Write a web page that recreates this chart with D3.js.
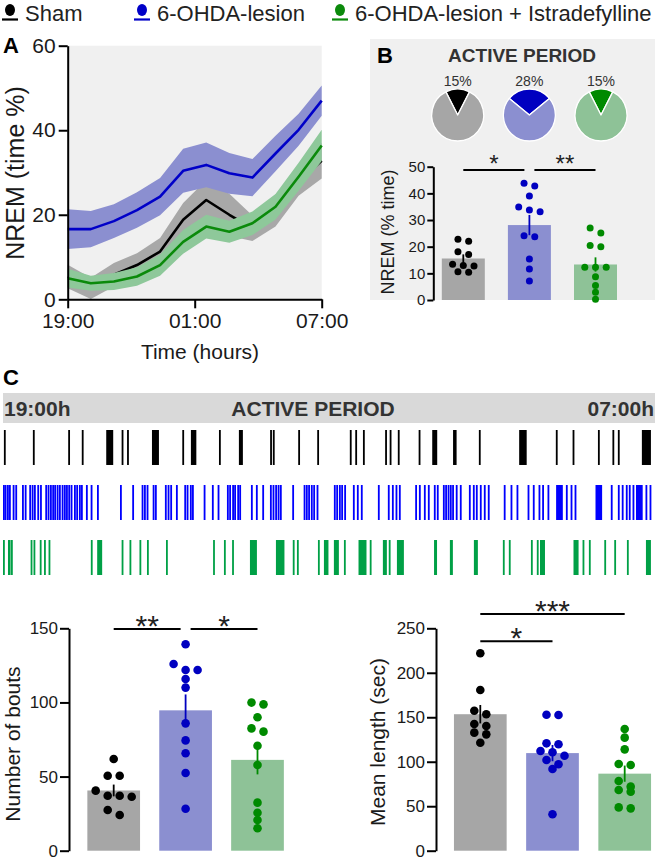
<!DOCTYPE html>
<html><head><meta charset="utf-8">
<script src="https://cdn.jsdelivr.net/npm/d3@7"></script>
<style>
body{margin:0;background:#fff}
svg{display:block}
text{font-family:"Liberation Sans",Arial,Helvetica,sans-serif}
</style>
</head><body>
<svg id="c" width="657" height="860"></svg>
<script>
// ---------------- DATA ----------------
const groups = ["Sham", "6-OHDA-lesion", "6-OHDA-lesion + Istradefylline"];
const colLine = ["#000000", "#0000c8", "#0b8a0b"];
const colBand = ["#a8a8a8", "#8b8fd0", "#8ec89a"];
const colBar = ["#a6a6a6", "#8b8fd0", "#8ec297"];
const colDot = ["#000000", "#0000c0", "#008a00"];
const colHyp = ["#000000", "#0000ff", "#00a046"];

// Panel A: hourly NREM (% time), 12 bins
const hourIdx = [0,1,2,3,4,5,6,7,8,9,10,11];
const timeTicks = [0, 5.5, 11];
const timeTickLabels = ["19:00", "01:00", "07:00"];
const shamMean = [5.4, 2.6, 5.8, 8.1, 11.3, 18.8, 23.5, 20.0, 16.8, 21.0, 28.0, 32.8];
const shamSem  = [2.8, 2.5, 2.8, 2.8, 3.2, 4.0, 4.7, 5.0, 3.0, 3.8, 3.5, 4.2];
const lesionMean = [16.6, 16.6, 18.5, 21.1, 24.3, 30.4, 31.8, 29.8, 28.8, 34.5, 40.1, 47.0];
const lesionSem  = [4.7, 4.3, 4.0, 4.2, 4.4, 5.2, 5.3, 4.8, 4.4, 4.2, 3.8, 3.6];
const istraMean = [5.0, 3.8, 4.2, 5.4, 8.1, 13.6, 17.2, 16.0, 18.0, 21.9, 29.0, 36.4];
const istraSem  = [2.2, 1.8, 2.0, 2.2, 2.5, 2.8, 2.8, 2.6, 2.8, 3.0, 3.3, 3.7];

// Panel B: pies and NREM % during active period
const piePercent = [15, 28, 15];
const nremSham   = [22.8, 22.0, 18.1, 17.1, 13.4, 12.9, 12.8, 10.4, 10.6];
const nremLesion = [43.75, 42.75, 39.0, 34.9, 33.75, 33.1, 24.1, 23.75, 15.4, 11.6, 7.1];
const nremIstra  = [27.0, 25.1, 20.4, 20.0, 12.25, 12.25, 12.25, 8.75, 5.4, 2.9, 0.25];
const nremTicks = [0, 10, 20, 30, 40, 50];
const sigB = [{a:0, b:1, level:48.8, label:"*"}, {a:1, b:2, level:48.8, label:"**"}];

// Panel C: hypnogram episodes [start min, duration min] over 720 min
const hypSham = [[1,2],[33,2],[72,2],[87,2],[114,7.7],[131,2],[137,2],[164.5,7.7],[198,2],[207.5,6],[238.5,2],[260.5,4.4],[295,2],[298,2],[326,2],[347,2],[383,2],[389,2],[397.5,2],[422,2],[427,2],[436,2],[459,2],[474,5.5],[497,3.9],[525.5,2],[570,8.3],[610.5,2],[629,2],[657,2],[673,2],[679,2],[705.5,10]];
const hypLesionStarts = [0,1.9,4.4,6.6,10.7,13.6,21,24,29,31.7,34.2,37.9,40.9,46.7,49.3,51.9,54.4,56.6,59.3,61.8,64.8,67.3,69.6,72.1,74.7,78.4,80.9,83.9,86.1,91.6,96.8,103.8,129.2,142.7,153.1,155.7,158.6,165.3,167.8,178.8,181.8,184.7,191,200.2,202.8,206.4,208.7,221.6,230.7,237,247.3,249.8,253.1,255.3,258.7,260.9,273.8,279.3,286.3,294.8,297.7,300.6,303.3,305.8,319.4,332,334.5,337,340,342.6,346.3,365.4,368,371,373.5,376.8,386.4,390.8,395.2,414,425,429.5,433.5,437.2,455.2,459.3,464.8,469.2,475.8,479.1,485.8,488.3,491,493.5,496,500,504.5,514.5,518.9,522.2,526.6,531,535.4,553,560.5,567.1,579.3,585.1,591.4,595.4,601.3,621.6,626.8,631.2,671.2,679,683.3,687.8,691.1,695.2,709.5,714];
const hypLesionLong = [[610.8,7.4],[654.3,7.3],[699,7.4]];
const hypIstra = [[0,2],[5.5,2.5],[8.3,2.5],[30.5,2],[33.7,2],[40.6,2],[45.3,2],[50.3,2],[97,2],[104,5.5],[131,2],[139.7,2],[150.7,2],[159,2],[180,2],[232,2],[244,2],[253,2],[272.7,7.7],[301.4,9.4],[320,2],[324.6,2],[347.8,2],[354.4,5],[365.4,5.5],[376.5,2],[392.6,8.8],[405,2],[419.5,4.4],[426,2],[435,7.7],[476,3.3],[493.5,3.3],[520,4.4],[552,2],[558.6,2],[583,2],[589.5,2],[593,5.5],[630,5.6],[640,2],[647,2],[664,2],[675,2],[689,2],[710,5.5]];

// Panel C bottom
const boutsSham   = [61.8, 50.6, 50.6, 40.5, 37.1, 36.4, 37.1, 27.4, 24.1];
const boutsLesion = [139.2, 125.9, 121.9, 121.9, 115.8, 110.0, 85.9, 74.4, 65.7, 52.4, 28.3];
const boutsIstra  = [98.7, 99.9, 90.0, 82.5, 80.3, 70.8, 57.8, 32.4, 25.6, 20.7, 15.1];
const boutsTicks = [0, 50, 100, 150];
const sigBouts = [{a:0, b:1, level:149.5, label:"**"}, {a:1, b:2, level:149.5, label:"*"}];

const lenSham   = [221.9, 180.7, 153.3, 157.4, 140.2, 142.4, 132.7, 130.8, 121.4];
const lenLesion = [152.5, 152.9, 119.6, 120.7, 112.1, 106.8, 110.6, 101.9, 97.1, 91.8, 40.9];
const lenIstra  = [136.8, 127.1, 113.9, 96.3, 97.4, 78.3, 72.0, 66.3, 68.2, 47.6, 48.7];
const lenTicks = [0, 50, 100, 150, 200, 250];
const sigLen = [{a:0, b:1, level:235.5, label:"*"}, {a:0, b:2, level:266, label:"***"}];

// ---------------- DRAW ----------------
const svg = d3.select("#c");
const txt = "#1a1a1a";

// Legend
const legX = [10, 142, 340];
groups.forEach((g, i) => {
  const lg = svg.append("g").attr("transform", `translate(${legX[i]},0)`);
  lg.append("ellipse").attr("cx", 0).attr("cy", 10).attr("rx", 5).attr("ry", 6).attr("fill", colLine[i]);
  lg.append("line").attr("x1", -8).attr("x2", 8).attr("y1", 19.5).attr("y2", 19.5).attr("stroke", colLine[i]).attr("stroke-width", 2.2);
  lg.append("text").attr("x", 15).attr("y", 21).attr("font-size", 22).attr("fill", "#222").text(g);
});

function panelLabel(t, x, y) {
  svg.append("text").attr("x", x).attr("y", y).attr("font-size", 22).attr("font-weight", "bold").attr("fill", "#000").text(t);
}

function styleAxis(g, fs) {
  g.select(".domain").attr("stroke", "#000").attr("stroke-width", 2);
  g.selectAll(".tick line").attr("stroke", "#000").attr("stroke-width", 2);
  g.selectAll(".tick text").attr("font-size", fs).attr("fill", txt)
    .attr("font-family", '"Liberation Sans",Arial,Helvetica,sans-serif');
}

// ---------- Panel A ----------
panelLabel("A", 3, 53);
const xA = d3.scaleLinear().domain([0, 11]).range([67.7, 321.7]);
const yA = d3.scaleLinear().domain([0, 60]).range([299.3, 45.7]);
svg.append("rect").attr("x", xA(0)).attr("y", yA(60)).attr("width", xA(11) - xA(0)).attr("height", yA(0) - yA(60)).attr("fill", "#f0f0f0");

const seriesA = [
  {mean: shamMean, sem: shamSem, i: 0},
  {mean: lesionMean, sem: lesionSem, i: 1},
  {mean: istraMean, sem: istraSem, i: 2}
];
const areaA = d3.area().x(d => xA(d.x)).y0(d => yA(Math.max(0, d.m - d.s))).y1(d => yA(d.m + d.s));
const lineA = d3.line().x(d => xA(d.x)).y(d => yA(d.m));
seriesA.forEach(s => {
  const pts = hourIdx.map((h, k) => ({x: h, m: s.mean[k], s: s.sem[k]}));
  svg.append("path").datum(pts).attr("d", areaA).attr("fill", colBand[s.i]);
  svg.append("path").datum(pts).attr("d", lineA).attr("fill", "none").attr("stroke", colLine[s.i]).attr("stroke-width", 2.6).attr("stroke-linejoin", "round");
});

const gAy = svg.append("g").attr("transform", `translate(${xA(0)},0)`)
  .call(d3.axisLeft(yA).tickValues([0, 20, 40, 60]).tickSize(9).tickSizeOuter(0).tickPadding(3));
styleAxis(gAy, 21);
const gAx = svg.append("g").attr("transform", `translate(0,${yA(0)})`)
  .call(d3.axisBottom(xA).tickValues(timeTicks).tickFormat((d, i) => timeTickLabels[i]).tickSize(9).tickSizeOuter(0).tickPadding(5));
styleAxis(gAx, 21);
svg.append("text").attr("x", 200).attr("y", 359).attr("text-anchor", "middle").attr("font-size", 21).attr("fill", txt).text("Time (hours)");
svg.append("text").attr("transform", "translate(15,173) rotate(-90)").attr("text-anchor", "middle").attr("dominant-baseline", "central")
  .attr("font-size", 25).attr("fill", txt).text("NREM (time %)");

// ---------- Panel B ----------
svg.append("rect").attr("x", 370).attr("y", 39).attr("width", 285).attr("height", 261).attr("fill", "#f0f0f0");
panelLabel("B", 377, 63);
svg.append("text").attr("x", 522).attr("y", 62).attr("text-anchor", "middle").attr("font-size", 19).attr("font-weight", "bold").attr("fill", "#333").text("ACTIVE PERIOD");

const xPie = d3.scalePoint().domain(groups).range([457.7, 601]);
const arcP = d3.arc().innerRadius(0).outerRadius(26);
groups.forEach((g, i) => {
  const p = piePercent[i];
  const half = Math.PI * p / 100;
  const arcs = d3.pie().sort(null).startAngle(-half).endAngle(2 * Math.PI - half)([p, 100 - p]);
  const pg = svg.append("g").attr("transform", `translate(${xPie(g)},115)`);
  pg.selectAll("path").data(arcs).join("path").attr("d", arcP)
    .attr("fill", (d, k) => k === 0 ? colDot[i] : colBar[i])
    .attr("stroke", "#fff").attr("stroke-width", 1.3).attr("stroke-linejoin", "round");
  svg.append("text").attr("x", xPie(g)).attr("y", 86).attr("text-anchor", "middle").attr("font-size", 14).attr("fill", "#333").text(p + "%");
});

function swarm(values, y, thr, spacing) {
  const pts = values.map(v => ({v, y: y(v)})).sort((a, b) => a.y - b.y);
  const clusters = []; let cur = null;
  pts.forEach(p => {
    if (cur && p.y - cur[0].y <= thr) cur.push(p); else { cur = [p]; clusters.push(cur); }
  });
  clusters.forEach(c => { const n = c.length; c.forEach((p, k) => p.dx = (k - (n - 1) / 2) * spacing); });
  return pts;
}

function barPanel(opt) {
  const {data, x, y, barW, r, spacing, sigs, starFs, starRaise} = opt;
  data.forEach((vals, i) => {
    const g = groups[i];
    const m = d3.mean(vals);
    const sem = d3.deviation(vals) / Math.sqrt(vals.length);
    svg.append("rect").attr("x", x(g) - barW / 2).attr("y", y(m)).attr("width", barW).attr("height", y(0) - y(m)).attr("fill", colBar[i]);
    svg.append("line").attr("x1", x(g)).attr("x2", x(g)).attr("y1", y(m - sem)).attr("y2", y(m + sem)).attr("stroke", colDot[i]).attr("stroke-width", 1.8);
    const pts = swarm(vals, y, 6.5, spacing);
    svg.append("g").selectAll("circle").data(pts).join("circle")
      .attr("cx", d => x(g) + d.dx).attr("cy", d => d.y).attr("r", r).attr("fill", colDot[i]);
  });
  sigs.forEach(s => {
    const sharedA = sigs.some(o => o !== s && o.level === s.level && o.b === s.a);
    const sharedB = sigs.some(o => o !== s && o.level === s.level && o.a === s.b);
    const x1 = x(groups[s.a]) + (sharedA ? 5 : 0);
    const x2 = x(groups[s.b]) - (sharedB ? 5 : 0);
    const ly = y(s.level);
    svg.append("line").attr("x1", x1).attr("x2", x2).attr("y1", ly).attr("y2", ly).attr("stroke", "#000").attr("stroke-width", 2);
    svg.append("text").attr("x", (x1 + x2) / 2).attr("y", ly - starRaise + 0.575 * starFs).attr("text-anchor", "middle")
      .attr("font-size", starFs).attr("fill", "#222").text(s.label);
  });
}

const xB = d3.scalePoint().domain(groups).range([463.3, 595.5]);
const yB = d3.scaleLinear().domain([0, 50]).range([300, 166.7]);
barPanel({data: [nremSham, nremLesion, nremIstra], x: xB, y: yB, barW: 43, r: 3.5, spacing: 10.7, sigs: sigB, starFs: 24, starRaise: 12});
const gBy = svg.append("g").attr("transform", "translate(433.3,0)")
  .call(d3.axisLeft(yB).tickValues(nremTicks).tickSize(6).tickSizeOuter(0).tickPadding(2));
styleAxis(gBy, 15);
svg.append("text").attr("transform", "translate(388,232) rotate(-90)").attr("text-anchor", "middle").attr("dominant-baseline", "central")
  .attr("font-size", 18).attr("fill", txt).text("NREM (% time)");

// ---------- Panel C ----------
panelLabel("C", 3, 385);
svg.append("rect").attr("x", 3).attr("y", 393).attr("width", 652).attr("height", 30).attr("fill", "#d9d9d9");
svg.append("text").attr("x", 4).attr("y", 416).attr("font-size", 21).attr("font-weight", "bold").attr("fill", "#333").text("19:00h");
svg.append("text").attr("x", 313).attr("y", 416).attr("text-anchor", "middle").attr("font-size", 21).attr("font-weight", "bold").attr("fill", "#333").text("ACTIVE PERIOD");
svg.append("text").attr("x", 654).attr("y", 416).attr("text-anchor", "end").attr("font-size", 21).attr("font-weight", "bold").attr("fill", "#333").text("07:00h");

const xH = d3.scaleLinear().domain([0, 720]).range([3, 655]);
const yH = d3.scaleBand().domain(groups).range([430, 575]).paddingInner(0.364);
const hypData = [hypSham, hypLesionStarts.map(s => [s, 2]).concat(hypLesionLong), hypIstra];
hypData.forEach((eps, i) => {
  svg.append("g").selectAll("rect").data(eps).join("rect")
    .attr("x", d => xH(d[0]))
    .attr("y", yH(groups[i]))
    .attr("width", d => Math.max(1.8, xH(d[0] + d[1]) - xH(d[0])))
    .attr("height", yH.bandwidth())
    .attr("fill", colHyp[i]);
});

// Number of bouts
const xBo = d3.scalePoint().domain(groups).range([113.7, 257.5]);
const yBo = d3.scaleLinear().domain([0, 150]).range([850.7, 628.3]);
barPanel({data: [boutsSham, boutsLesion, boutsIstra], x: xBo, y: yBo, barW: 52.7, r: 4.3, spacing: 12, sigs: sigBouts, starFs: 30, starRaise: 10});
const gBoy = svg.append("g").attr("transform", "translate(69,0)")
  .call(d3.axisLeft(yBo).tickValues(boutsTicks).tickSize(9).tickSizeOuter(0).tickPadding(2));
styleAxis(gBoy, 17);
svg.append("text").attr("transform", "translate(12,744) rotate(-90)").attr("text-anchor", "middle").attr("dominant-baseline", "central")
  .attr("font-size", 21).attr("fill", txt).text("Number of bouts");

// Mean length
const xLe = d3.scalePoint().domain(groups).range([480.3, 624.7]);
const yLe = d3.scaleLinear().domain([0, 250]).range([850.7, 628.3]);
barPanel({data: [lenSham, lenLesion, lenIstra], x: xLe, y: yLe, barW: 52.7, r: 4.3, spacing: 12, sigs: sigLen, starFs: 30, starRaise: 10.5});
const gLey = svg.append("g").attr("transform", "translate(436,0)")
  .call(d3.axisLeft(yLe).tickValues(lenTicks).tickSize(9).tickSizeOuter(0).tickPadding(2));
styleAxis(gLey, 17);
svg.append("text").attr("transform", "translate(377,742) rotate(-90)").attr("text-anchor", "middle").attr("dominant-baseline", "central")
  .attr("font-size", 21).attr("fill", txt).text("Mean length (sec)");
</script>
</body></html>
